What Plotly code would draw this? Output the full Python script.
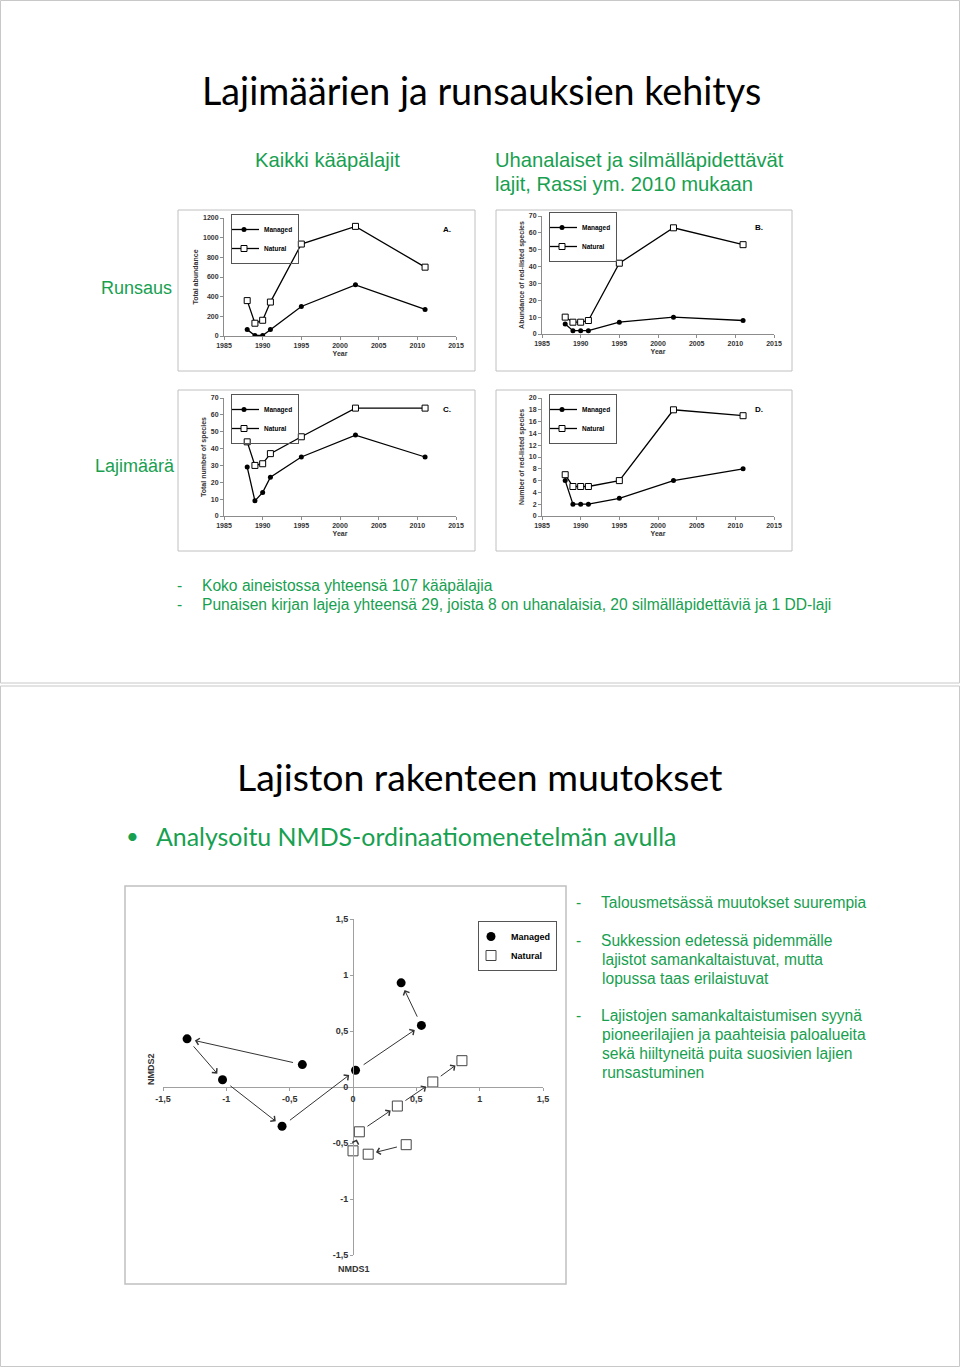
import plotly.graph_objects as go

# ---------------- data ----------------
years = [1988, 1989, 1990, 1991, 1995, 2002, 2011]
abund_managed = [65, 5, 5, 65, 300, 520, 270]
abund_natural = [360, 130, 160, 345, 935, 1115, 700]
redab_managed = [6, 2, 2, 2, 7, 10, 8]
redab_natural = [10, 7, 7, 8, 42, 63, 53]
spec_managed = [29, 9, 14, 23, 35, 48, 35]
spec_natural = [44, 30, 31, 37, 47, 64, 64]
redsp_managed = [6, 2, 2, 2, 3, 6, 8]
redsp_natural = [7, 5, 5, 5, 6, 18, 17]
year_ticks = [1985, 1990, 1995, 2000, 2005, 2010, 2015]

nmds_managed_x = [-0.40, -1.31, -1.03, -0.56, 0.02, 0.54, 0.38]
nmds_managed_y = [0.20, 0.43, 0.065, -0.35, 0.15, 0.55, 0.93]
nmds_natural_x = [0.42, 0.12, 0.00, 0.05, 0.35, 0.63, 0.86]
nmds_natural_y = [-0.515, -0.60, -0.57, -0.40, -0.17, 0.045, 0.235]
nmds_tickvals = [-1.5, -1, -0.5, 0, 0.5, 1, 1.5]
nmds_ticktext = ["-1,5", "-1", "-0,5", "0", "0,5", "1", "1,5"]

# ---------------- layout helpers ----------------
W, H = 960, 1367
def px(x):
    return x / W
def py(y):
    return 1 - y / H

GREEN = "#17a050"
AXC = "#8c8c8c"
fig = go.Figure()

panels = [
    dict(i=1, xd=(224, 456), yd=(218, 336), ymax=1200, dtick=200, title="Total abundance",
         m=abund_managed, n=abund_natural, letter="A.", frame=(178, 210, 475, 371)),
    dict(i=2, xd=(542, 774), yd=(216, 334), ymax=70, dtick=10, title="Abundance of red-listed species",
         m=redab_managed, n=redab_natural, letter="B.", frame=(496, 210, 792, 371)),
    dict(i=3, xd=(224, 456), yd=(398, 516), ymax=70, dtick=10, title="Total number of species",
         m=spec_managed, n=spec_natural, letter="C.", frame=(178, 390, 475, 551)),
    dict(i=4, xd=(542, 774), yd=(398, 516), ymax=20, dtick=2, title="Number of red-listed species",
         m=redsp_managed, n=redsp_natural, letter="D.", frame=(496, 390, 792, 551)),
]

shapes = []
annotations = []
small = dict(family="Liberation Sans", size=7, color="#333333", weight="bold")

for p in panels:
    i = p["i"]
    sfx = "" if i == 1 else str(i)
    leg = "legend" if i == 1 else "legend%d" % i
    fig.add_trace(go.Scatter(x=years, y=p["m"], mode="lines+markers", name="Managed",
                             xaxis="x" + sfx, yaxis="y" + sfx, legend=leg,
                             line=dict(color="black", width=1.3),
                             marker=dict(symbol="circle", size=5, color="black")))
    fig.add_trace(go.Scatter(x=years, y=p["n"], mode="lines+markers", name="Natural",
                             xaxis="x" + sfx, yaxis="y" + sfx, legend=leg,
                             line=dict(color="black", width=1.3),
                             marker=dict(symbol="square", size=6, color="white",
                                         line=dict(color="black", width=1))))
    fig.update_layout(**{
        "xaxis" + sfx: dict(domain=[px(p["xd"][0]), px(p["xd"][1])], range=[1985, 2015],
                            tickvals=year_ticks, showline=True, linecolor=AXC, ticks="outside",
                            ticklen=3, tickcolor=AXC, tickfont=small, showgrid=False,
                            zeroline=False, anchor="y" + sfx, automargin=False,
                            title=dict(text="Year", font=small, standoff=2)),
        "yaxis" + sfx: dict(domain=[py(p["yd"][1]), py(p["yd"][0])], range=[0, p["ymax"]],
                            dtick=p["dtick"], showline=True, linecolor=AXC, ticks="outside",
                            ticklen=3, tickcolor=AXC, tickfont=small, showgrid=False,
                            zeroline=False, anchor="x" + sfx, automargin=False,
                            title=dict(text=p["title"], font=small, standoff=3)),
        leg: dict(x=px(p["xd"][0] + 7), y=py(p["yd"][0] - 4), xanchor="left", yanchor="top",
                  bgcolor="rgba(255,255,255,0)", bordercolor="#555555", borderwidth=1,
                  font=dict(family="Liberation Sans", size=6.5, color="black", weight="bold"),
                  itemwidth=30, tracegroupgap=0, indentation=-8),
    })
    f = p["frame"]
    shapes.append(dict(type="rect", xref="paper", yref="paper", x0=px(f[0]), x1=px(f[2]),
                       y0=py(f[3]), y1=py(f[1]), line=dict(color="#c0c0c0", width=1)))
    annotations.append(dict(text=p["letter"], xref="paper", yref="paper",
                            x=px(p["xd"][1] - 9), y=py(p["yd"][0] + 5), showarrow=False,
                            font=dict(family="Liberation Sans", size=8, color="black", weight="bold")))

# ---------------- NMDS chart ----------------
fig.add_trace(go.Scatter(x=nmds_managed_x, y=nmds_managed_y, mode="markers", name="Managed",
                         xaxis="x5", yaxis="y5", legend="legend5",
                         marker=dict(symbol="circle", size=9, color="black")))
fig.add_trace(go.Scatter(x=nmds_natural_x, y=nmds_natural_y, mode="markers", name="Natural",
                         xaxis="x5", yaxis="y5", legend="legend5",
                         marker=dict(symbol="square", size=10, color="white",
                                     line=dict(color="#444444", width=1))))

nm_font = dict(family="Liberation Sans", size=9, color="#333333", weight="bold")
fig.update_layout(
    xaxis5=dict(domain=[px(163), px(543)], range=[-1.5, 1.5], tickvals=nmds_tickvals,
                ticktext=nmds_ticktext, anchor="free", position=py(1087), showline=True,
                linecolor="#a0a0a0", ticks="outside", ticklen=3, tickcolor="#a0a0a0",
                tickfont=nm_font, showgrid=False, zeroline=False, automargin=False),
    yaxis5=dict(domain=[py(1255), py(919)], range=[-1.5, 1.5], tickvals=nmds_tickvals,
                ticktext=nmds_ticktext, anchor="free", position=px(353), showline=True,
                linecolor="#a0a0a0", ticks="outside", ticklen=3, tickcolor="#a0a0a0",
                tickfont=nm_font, showgrid=False, zeroline=False, automargin=False),
    legend5=dict(x=px(478), y=py(921), xanchor="left", yanchor="top", bgcolor="white",
                 bordercolor="#555555", borderwidth=1,
                 font=dict(family="Liberation Sans", size=9, color="black", weight="bold"),
                 itemwidth=30, tracegroupgap=0, indentation=-8),
)

for xs, ys in ((nmds_managed_x, nmds_managed_y), (nmds_natural_x, nmds_natural_y)):
    for k in range(len(xs) - 1):
        annotations.append(dict(x=xs[k + 1], y=ys[k + 1], ax=xs[k], ay=ys[k],
                                xref="x5", yref="y5", axref="x5", ayref="y5", text="",
                                showarrow=True, arrowhead=4, arrowsize=1.3, arrowwidth=1,
                                arrowcolor="#333333", standoff=8, startstandoff=8))

annotations.append(dict(text="NMDS1", xref="paper", yref="paper", x=px(354), y=py(1269),
                        yanchor="middle", showarrow=False, font=nm_font))
annotations.append(dict(text="NMDS2", xref="paper", yref="paper", x=px(144), y=py(1087),
                        showarrow=False, textangle=-90, font=nm_font))
shapes.append(dict(type="rect", xref="paper", yref="paper", x0=px(125), x1=px(566),
                   y0=py(1284), y1=py(886), line=dict(color="#c0c0c0", width=1.5)))

# ---------------- slide frames ----------------
shapes.append(dict(type="rect", xref="paper", yref="paper", x0=px(0.5), x1=px(959.5),
                   y0=py(683), y1=py(0.5), line=dict(color="#c8c8c8", width=1)))
shapes.append(dict(type="rect", xref="paper", yref="paper", x0=px(0.5), x1=px(959.5),
                   y0=py(1366.5), y1=py(686), line=dict(color="#c8c8c8", width=1)))

# ---------------- slide texts ----------------
def txt(t, x, y, size, color=GREEN, family="Liberation Sans", xanchor="left", angle=0):
    annotations.append(dict(text=t, xref="paper", yref="paper", x=px(x), y=py(y),
                            xanchor=xanchor, yanchor="middle", showarrow=False, textangle=angle,
                            font=dict(family=family, size=size, color=color)))

txt("Lajimäärien ja runsauksien kehitys", 481, 91, 37.7, color="black", family="Lato", xanchor="center")
txt("Kaikki kääpälajit", 253, 160, 20.2)
txt("Uhanalaiset ja silmälläpidettävät", 493, 160, 20.2)
txt("lajit, Rassi ym. 2010 mukaan", 493, 184, 20.2)
txt("Runsaus", 99, 288, 18)
txt("Lajimäärä", 93, 466, 18)
txt("-", 175, 585, 15.6)
txt("Koko aineistossa yhteensä 107 kääpälajia", 200, 585, 15.6)
txt("-", 175, 604, 15.6)
txt("Punaisen kirjan lajeja yhteensä 29, joista 8 on uhanalaisia, 20 silmälläpidettäviä ja 1 DD-laji",
    200, 604, 15.6)

txt("Lajiston rakenteen muutokset", 480, 776, 37.4, color="black", family="Lato", xanchor="center")
txt("•", 124, 835, 22, family="Lato")
txt("Analysoitu NMDS-ordinaatiomenetelmän avulla", 154, 836, 24.9, family="Lato")

right_lines = [
    ("-", "Talousmetsässä muutokset suurempia", 902),
    ("-", "Sukkession edetessä pidemmälle", 940),
    ("", "lajistot samankaltaistuvat, mutta", 959),
    ("", "lopussa taas erilaistuvat", 978),
    ("-", "Lajistojen samankaltaistumisen syynä", 1015),
    ("", "pioneerilajien ja paahteisia paloalueita", 1034),
    ("", "sekä hiiltyneitä puita suosivien lajien", 1053),
    ("", "runsastuminen", 1072),
]
for d, t, y in right_lines:
    if d:
        txt(d, 574, y, 15.6)
    txt(t, 599 if d else 600, y, 15.6)

fig.update_layout(width=W, height=H, margin=dict(l=0, r=0, t=0, b=0, autoexpand=False),
                  paper_bgcolor="white", plot_bgcolor="white",
                  shapes=shapes, annotations=annotations, showlegend=True)

fig.write_html("out.html", config={"displayModeBar": False},
               post_script="document.body.style.margin='0';")
